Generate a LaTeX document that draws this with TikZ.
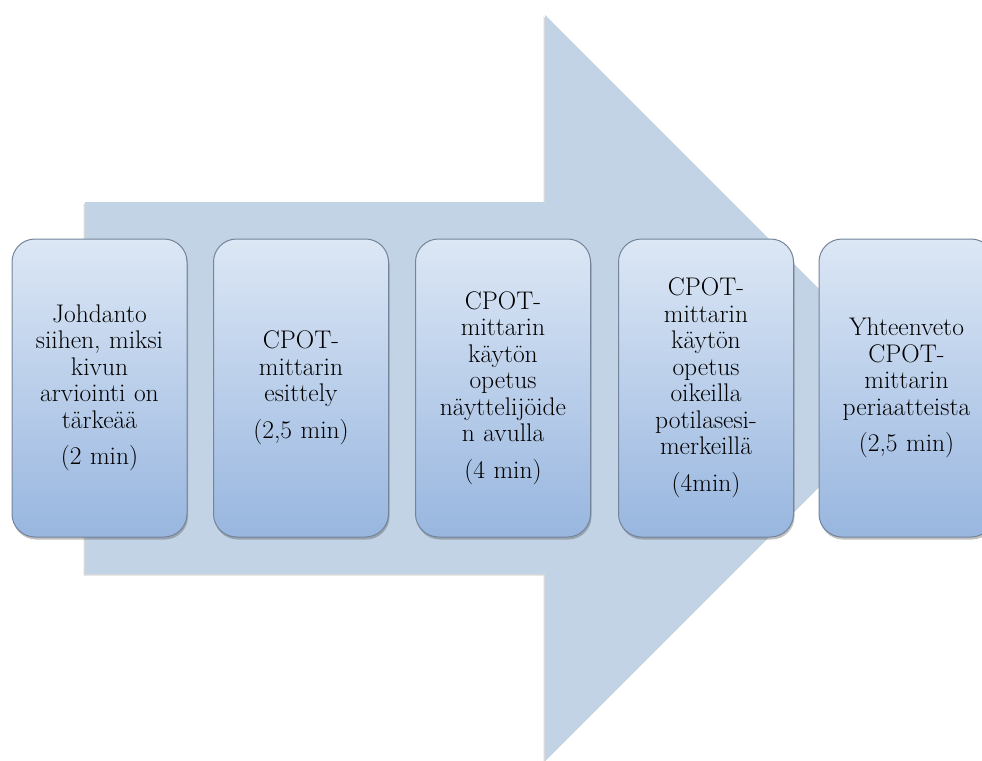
\documentclass[tikz,border=0pt]{standalone}
\usetikzlibrary{shadings,shadows}
\definecolor{arrowfill}{HTML}{C3D3E6}
\definecolor{boxtop}{HTML}{DCE7F5}
\definecolor{boxbot}{HTML}{98B6DF}
\definecolor{boxline}{HTML}{74849B}
\tikzset{
  stagebox/.style={draw=boxline, line width=1pt, rounded corners=23pt,
    top color=boxtop, bottom color=boxbot, minimum width=175pt, minimum height=298pt,
    text width=168pt, align=center, inner sep=0pt,
    font=\rmfamily\fontsize{25.5}{26.5}\selectfont,
    drop shadow={opacity=0.35, shadow xshift=1pt, shadow yshift=-2.5pt, fill=black!70}},
  bigarrow/.style={fill=arrowfill, draw=none,
    drop shadow={opacity=0.25, shadow xshift=-1.5pt, shadow yshift=-1.5pt, fill=black!60}}
}
\begin{document}
\begin{tikzpicture}[x=1pt,y=-1pt]
\useasboundingbox (0,0) rectangle (982,760);
\clip (0,0) rectangle (982,760);
\path[bigarrow] (85,202) -- (545,202) -- (545,15) -- (918,388) -- (545,761) -- (545,574) -- (85,574) -- cycle;
\node[stagebox] (b1) at (99.5,388) {Johdanto\\siihen, miksi\\kivun\\arviointi on\\tärkeää\\[10pt](2 min)};
\node[stagebox] (b2) at (301,388) {CPOT-\\mittarin\\esittely\\[10pt](2,5 min)};
\node[stagebox] (b3) at (503,388) {CPOT-\\mittarin\\käytön\\opetus\\näyttelijöide\\n avulla\\[10pt](4 min)};
\node[stagebox] (b4) at (706,388) {CPOT-\\mittarin\\käytön\\opetus\\oikeilla\\potilasesi-\\merkeillä\\[10pt](4min)};
\node[stagebox] (b5) at (906.5,388) {Yhteenveto\\CPOT-\\mittarin\\periaatteista\\[10pt](2,5 min)};
\end{tikzpicture}
\end{document}
